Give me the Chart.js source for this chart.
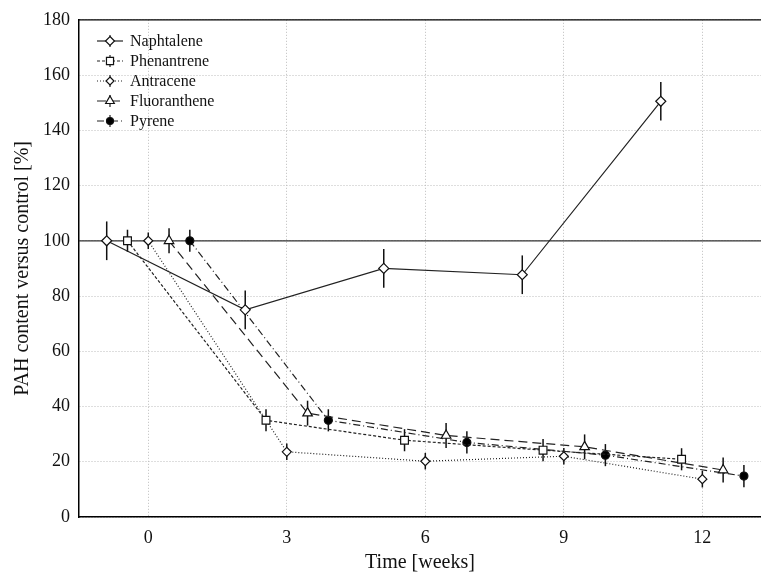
<!DOCTYPE html>
<html>
<head>
<meta charset="utf-8">
<script src="https://cdn.jsdelivr.net/npm/chart.js@4"></script>
<style>
html,body{margin:0;padding:0;background:#fff;}
#wrap{width:761px;height:575px;position:relative;}
</style>
</head>
<body>
<div id="wrap"><canvas id="pahChart" width="761" height="575"></canvas></div>
<script>
// values (weeks, shifted per compound like the original)
const naphX = [-0.9, 2.1, 5.1, 8.1, 11.1];
const naphY = [100, 75, 90, 87.7, 150.5];
const naphErr = [7, 7, 7, 7, 7];

const phenX = [-0.45, 2.55, 5.55, 8.55, 11.55];
const phenY = [100, 35, 27.8, 24.2, 20.9];
const phenErr = [4, 4, 4, 4, 4];

const antrX = [0, 3, 6, 9, 12];
const antrY = [100, 23.6, 20.2, 22, 13.7];
const antrErr = [3, 3, 3, 3, 3];

const fluoX = [0.45, 3.45, 6.45, 9.45, 12.45];
const fluoY = [100, 37.6, 29.5, 25.4, 17];
const fluoErr = [4.5, 4.5, 4.5, 4.5, 4.5];

const pyrX = [0.9, 3.9, 6.9, 9.9, 12.9];
const pyrY = [100, 35, 27, 22.4, 14.8];
const pyrErr = [4, 4, 4, 4, 4];

const xTicks = [0, 3, 6, 9, 12];
const controlLevel = 100;

const serif = "'Liberation Serif', 'Times New Roman', serif";

function pts(xs, ys){
  return xs.map((x, i) => ({x: x, y: ys[i]}));
}

const series = [
  {label:"Naphtalene", xs:naphX, ys:naphY, err:naphErr, dash:[], style:"rectRot", r:5, fill:"#fff"},
  {label:"Phenantrene", xs:phenX, ys:phenY, err:phenErr, dash:[3,2], style:"rect", r:5.5, fill:"#fff"},
  {label:"Antracene", xs:antrX, ys:antrY, err:antrErr, dash:[1,2], style:"rectRot", r:4.5, fill:"#fff"},
  {label:"Fluoranthene", xs:fluoX, ys:fluoY, err:fluoErr, dash:[9,5], style:"triangle", r:5.5, fill:"#fff"},
  {label:"Pyrene", xs:pyrX, ys:pyrY, err:pyrErr, dash:[7,3,1,3], style:"circle", r:4, fill:"#000"}
];

const datasets = series.map(s => ({
  label: s.label,
  data: pts(s.xs, s.ys),
  borderColor: "#222",
  borderWidth: 1.2,
  borderDash: s.dash,
  pointStyle: s.style,
  pointRadius: s.r,
  pointBorderWidth: 1.2,
  pointBorderColor: "#111",
  pointBackgroundColor: s.fill,
  fill: false,
  tension: 0
}));

function marker(ctx, style, x, y, r, fill){
  ctx.save();
  ctx.setLineDash([]);
  ctx.lineWidth = 1.2;
  ctx.strokeStyle = "#111";
  ctx.fillStyle = fill;
  ctx.beginPath();
  if (style === "rectRot"){
    ctx.moveTo(x, y - r); ctx.lineTo(x + r, y); ctx.lineTo(x, y + r); ctx.lineTo(x - r, y); ctx.closePath();
  } else if (style === "rect"){
    const s = r * Math.SQRT1_2;
    ctx.rect(x - s, y - s, 2 * s, 2 * s);
  } else if (style === "triangle"){
    ctx.moveTo(x, y - r); ctx.lineTo(x + r * 0.866, y + r * 0.5); ctx.lineTo(x - r * 0.866, y + r * 0.5); ctx.closePath();
  } else {
    ctx.arc(x, y, r, 0, Math.PI * 2);
  }
  ctx.fill();
  ctx.stroke();
  ctx.restore();
}

const extras = {
  id: "extras",
  beforeDatasetsDraw(chart){
    const {ctx, chartArea, scales} = chart;
    ctx.save();
    // top frame line
    ctx.strokeStyle = "#000";
    ctx.lineWidth = 1.2;
    ctx.beginPath();
    ctx.moveTo(chartArea.left, chartArea.top);
    ctx.lineTo(chartArea.right, chartArea.top);
    ctx.stroke();
    // control level
    const y100 = scales.y.getPixelForValue(controlLevel);
    ctx.strokeStyle = "#333";
    ctx.beginPath();
    ctx.moveTo(chartArea.left, y100);
    ctx.lineTo(chartArea.right, y100);
    ctx.stroke();
    // error bars
    ctx.strokeStyle = "#111";
    ctx.lineWidth = 1.5;
    series.forEach(s => {
      s.xs.forEach((x, i) => {
        const px = scales.x.getPixelForValue(x);
        ctx.beginPath();
        ctx.moveTo(px, scales.y.getPixelForValue(s.ys[i] + s.err[i]));
        ctx.lineTo(px, scales.y.getPixelForValue(s.ys[i] - s.err[i]));
        ctx.stroke();
      });
    });
    ctx.restore();
  },
  afterDraw(chart){
    const ctx = chart.ctx;
    ctx.save();
    ctx.font = "16px " + serif;
    ctx.fillStyle = "#111";
    ctx.textBaseline = "middle";
    series.forEach((s, i) => {
      const y = 41 + i * 20;
      ctx.strokeStyle = "#222";
      ctx.lineWidth = 1.2;
      ctx.setLineDash(s.dash);
      ctx.beginPath();
      ctx.moveTo(97, y);
      ctx.lineTo(123, y);
      ctx.stroke();
      ctx.setLineDash([]);
      ctx.lineWidth = 1.2;
      ctx.beginPath();
      ctx.moveTo(110, y - 6);
      ctx.lineTo(110, y + 6);
      ctx.stroke();
      marker(ctx, s.style, 110, y, s.r - 0.5, s.fill);
      ctx.fillText(s.label, 130, y + 1);
    });
    ctx.restore();
  }
};

new Chart(document.getElementById("pahChart"), {
  type: "line",
  data: {datasets: datasets},
  options: {
    responsive: false,
    animation: false,
    layout: {autoPadding: false, padding: {top: 18, right: 0, left: 0, bottom: 0}},
    plugins: {legend: {display: false}, tooltip: {enabled: false}},
    scales: {
      x: {
        type: "linear",
        min: -1.5,
        max: 13.27,
        afterBuildTicks: axis => { axis.ticks = xTicks.map(v => ({value: v})); },
        afterFit: axis => { axis.height = 58; },
        grid: {color: "#bdbdbd", lineWidth: 1, drawTicks: false},
        border: {display: true, color: "#000", width: 1.5, dash: [1, 2]},
        ticks: {color: "#111", padding: 10, font: {family: serif, size: 18}},
        title: {display: true, text: "Time [weeks]", color: "#111", padding: {top: 0, bottom: 0}, font: {family: serif, size: 20}}
      },
      y: {
        min: 0,
        max: 180,
        afterFit: axis => { axis.width = 79; },
        grid: {color: "#bdbdbd", lineWidth: 1, drawTicks: false},
        border: {display: true, color: "#000", width: 1.5, dash: [1, 2]},
        ticks: {stepSize: 20, color: "#111", padding: 9, font: {family: serif, size: 18}},
        title: {display: true, text: "PAH content versus control [%]", color: "#111", padding: {top: 11, bottom: 0}, font: {family: serif, size: 20}}
      }
    }
  },
  plugins: [extras]
});
</script>
</body>
</html>
